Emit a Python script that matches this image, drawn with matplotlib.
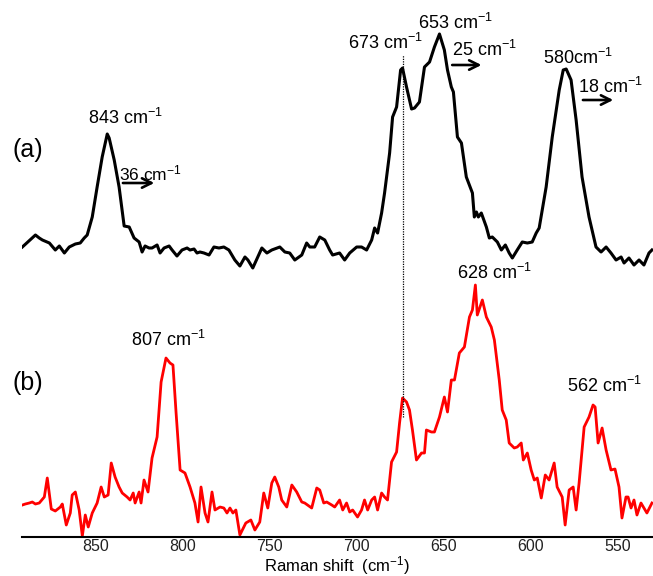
import matplotlib
matplotlib.use('Agg')
import matplotlib.pyplot as plt

plt.rcParams['font.family'] = ['Liberation Sans', 'DejaVu Sans']
plt.rcParams['mathtext.fontset'] = 'custom'
plt.rcParams['mathtext.rm'] = 'Liberation Sans'
plt.rcParams['mathtext.default'] = 'regular'

# spectrum (a) - black
wn_a = [891.8, 884.3, 882.1, 880.3, 876.3, 872.9, 870.6, 867.7, 864.9, 861.4,
        858.6, 856.3, 854.6, 851.7, 848.9, 846.0, 843.1, 842.0, 839.1, 836.3,
        833.4, 830.5, 827.7, 824.8, 823.1, 821.4, 819.1, 817.4, 814.5, 812.8,
        810.5, 807.6, 805.9, 803.1, 800.2, 797.3, 795.6, 793.3, 791.6, 789.9,
        787.6, 784.7, 781.9, 779.0, 776.2, 773.3, 769.9, 767.0, 764.1, 762.4,
        759.6, 754.4, 751.5, 748.7, 744.1, 741.2, 738.4, 735.5, 731.5, 728.7,
        726.9, 724.1, 721.2, 718.3, 715.5, 713.8, 709.8, 706.9, 704.0, 700.0,
        697.2, 694.3, 691.4, 689.7, 688.0, 685.7, 684.0, 681.1, 679.4, 677.1,
        674.8, 673.7, 671.4, 668.5, 666.8, 664.0, 661.1, 658.2, 655.4, 652.5,
        649.7, 647.9, 645.7, 644.5, 642.2, 639.9, 637.1, 633.6, 632.5, 631.3,
        630.2, 628.5, 625.6, 623.9, 622.2, 619.3, 617.0, 614.7, 612.5, 610.7,
        607.9, 605.0, 602.1, 599.3, 597.0, 595.3, 591.3, 587.8, 583.8, 581.5,
        579.8, 577.0, 574.1, 570.7, 566.7, 562.7, 559.8, 556.9, 554.1, 551.2,
        548.3, 546.6, 543.8, 540.9, 538.0, 535.2, 532.3, 530.6]
int_a = [290, 302, 299, 297, 294, 287, 291, 284, 290, 293,
         294, 299, 302, 320, 350, 380, 403, 399, 377, 350,
         311, 310, 299, 295, 285, 291, 289, 289, 292, 284,
         289, 291, 287, 281, 287, 289, 287, 288, 284, 285,
         284, 282, 290, 289, 290, 287, 277, 271, 280, 277,
         269, 289, 284, 287, 290, 285, 284, 277, 282, 294,
         290, 290, 300, 297, 287, 282, 284, 277, 284, 290,
         290, 287, 297, 309, 304, 324, 344, 384, 420, 430,
         467, 469, 450, 428, 429, 435, 470, 475, 490, 503,
         487, 467, 450, 445, 400, 394, 360, 344, 320, 325,
         320, 324, 310, 299, 300, 295, 287, 292, 284, 279,
         287, 295, 294, 295, 304, 309, 350, 400, 447, 467,
         468, 457, 417, 360, 320, 290, 285, 290, 284, 277,
         280, 274, 279, 272, 277, 272, 284, 287]

# spectrum (b) - red
wn_b = [891.8, 890.1, 887.8, 886.1, 884.3, 882.1, 879.2, 877.5, 875.2, 872.9,
        870.0, 868.9, 866.6, 864.3, 863.2, 861.4, 859.2, 857.4, 855.7, 854.0,
        851.7, 848.9, 846.6, 844.8, 842.6, 840.8, 838.6, 836.3, 834.5, 831.7,
        830.0, 828.2, 827.1, 824.8, 823.7, 822.0, 819.7, 817.4, 814.5, 812.2,
        809.4, 807.1, 805.4, 803.6, 801.3, 798.5, 795.6, 792.8, 791.0, 789.3,
        787.0, 785.3, 783.0, 781.3, 778.4, 776.2, 774.4, 772.7, 771.0, 769.3,
        767.0, 763.6, 760.7, 758.4, 755.6, 753.3, 751.0, 748.7, 747.0, 744.7,
        743.0, 740.1, 737.2, 734.4, 731.5, 729.8, 725.8, 722.9, 721.2, 718.9,
        717.2, 714.3, 712.6, 709.8, 708.0, 705.8, 704.0, 702.3, 699.5, 697.2,
        695.5, 693.7, 691.4, 689.7, 688.0, 685.7, 684.0, 682.3, 680.0, 677.1,
        675.4, 673.7, 671.4, 669.7, 668.0, 665.7, 662.8, 661.1, 660.0, 657.1,
        655.4, 652.5, 649.7, 647.9, 645.7, 643.9, 641.1, 638.2, 635.3, 633.6,
        631.9, 630.8, 627.9, 625.6, 622.8, 621.0, 618.2, 616.5, 614.2, 612.5,
        609.6, 607.9, 605.6, 604.4, 602.1, 599.9, 598.1, 596.4, 594.1, 591.8,
        589.6, 586.7, 585.0, 582.1, 580.4, 578.1, 575.8, 574.1, 572.4, 569.5,
        566.7, 564.4, 563.2, 561.5, 559.2, 556.9, 554.1, 551.8, 549.5, 547.8,
        545.5, 544.3, 542.6, 540.9, 539.2, 536.9, 535.2, 533.5, 530.6]
int_b = [32, 33, 34, 35, 33, 34, 40, 59, 28, 26,
         30, 33, 12, 24, 42, 45, 27, 1, 22, 10,
         24, 34, 50, 40, 42, 74, 60, 50, 44, 40,
         37, 44, 34, 45, 34, 57, 45, 79, 100, 155,
         179, 174, 172, 124, 67, 64, 50, 34, 15, 50,
         24, 15, 45, 27, 30, 29, 24, 29, 24, 27,
         2, 14, 17, 7, 15, 44, 29, 54, 60, 50,
         37, 30, 52, 45, 35, 34, 29, 49, 47, 34,
         35, 32, 30, 37, 27, 34, 25, 27, 20, 27,
         37, 27, 37, 40, 27, 44, 40, 37, 75, 85,
         114, 139, 135, 127, 107, 77, 84, 84, 107, 105,
         105, 120, 140, 125, 157, 157, 184, 190, 220, 227,
         252, 222, 237, 220, 210, 197, 157, 127, 117, 94,
         89, 90, 94, 77, 84, 67, 57, 59, 39, 62,
         57, 74, 50, 40, 12, 47, 50, 27, 54, 110,
         120, 132, 130, 94, 109, 87, 67, 68, 50, 19,
         40, 40, 29, 37, 22, 34, 29, 24, 34]

ticks = [850, 800, 750, 700, 650, 600, 550]

fig = plt.figure(figsize=(6.53, 5.76), dpi=100)
ax = fig.add_axes([0.0337, 0.0677, 0.9663, 0.9323])

ax.plot(wn_a, int_a, color='black', lw=2.2, solid_joinstyle='round')
ax.plot(wn_b, int_b, color='red', lw=2.0, solid_joinstyle='round')

# dotted guide at 673 cm-1
ax.plot([673.5, 673.5], [120, 482], color='black', lw=0.9, ls=(0, (1, 1)))

ax.set_xlim(892, 530)
ax.set_ylim(0, 537)

for s in ['left', 'right', 'top']:
    ax.spines[s].set_visible(False)
ax.spines['bottom'].set_linewidth(1.5)
ax.set_yticks([])
ax.set_xticks(ticks)
ax.tick_params(axis='x', length=0, labelsize=11.5, pad=1.5, colors='#222222')
ax.set_xlabel('Raman shift  (cm$^{-1}$)', fontsize=12, labelpad=0)

fs = 13
ax.text(888.9, 387, '(a)', fontsize=18, ha='center', va='center')
ax.text(888.9, 154, '(b)', fontsize=18, ha='center', va='center')

ax.text(832.8, 419, '843 cm$^{-1}$', fontsize=fs, ha='center', va='center')
ax.text(683.4, 494, '673 cm$^{-1}$', fontsize=fs, ha='center', va='center')
ax.text(643.4, 514, '653 cm$^{-1}$', fontsize=fs, ha='center', va='center')
ax.text(573.0, 479, '580cm$^{-1}$', fontsize=fs, ha='center', va='center')
ax.text(808.2, 197, '807 cm$^{-1}$', fontsize=fs, ha='center', va='center')
ax.text(621.0, 264, '628 cm$^{-1}$', fontsize=fs, ha='center', va='center')
ax.text(558.0, 151, '562 cm$^{-1}$', fontsize=fs, ha='center', va='center')

# shift labels with arrows
ax.text(818.5, 364, '36 cm$^{-1}$', fontsize=fs - 0.5, ha='center', va='center')
ax.text(626.8, 487, '25 cm$^{-1}$', fontsize=fs, ha='center', va='center')
ax.text(554.6, 450, '18 cm$^{-1}$', fontsize=fs, ha='center', va='center')
arrow = dict(arrowstyle='->', lw=1.9, color='black', mutation_scale=17)
ax.annotate('', xy=(814.5, 354), xytext=(835.7, 354), arrowprops=arrow)
ax.annotate('', xy=(626.8, 472), xytext=(646.8, 472), arrowprops=arrow)
ax.annotate('', xy=(551.2, 437), xytext=(571.8, 437), arrowprops=arrow)

fig.savefig('out.png', dpi=100)
